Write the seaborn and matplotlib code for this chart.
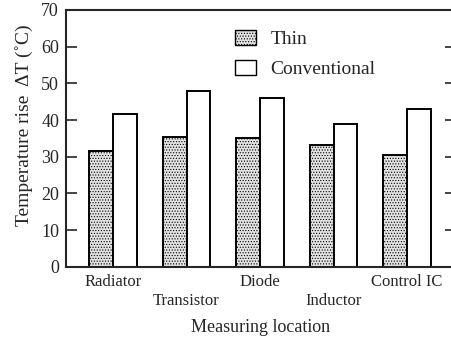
import pandas as pd
import seaborn as sns
import matplotlib.pyplot as plt
from matplotlib.patches import Patch

# Données
locations = ["Radiator", "Transistor", "Diode", "Inductor", "Control IC"]
thin = [31.6, 35.3, 35.1, 33.3, 30.6]
conventional = [41.7, 47.8, 45.9, 38.8, 43.1]
series = ["Thin", "Conventional"]

data = pd.DataFrame({
    "location": locations * 2,
    "type": [series[0]] * len(locations) + [series[1]] * len(locations),
    "dT": thin + conventional,
})

sns.set_style("ticks")
plt.rcParams["font.family"] = ["Liberation Serif", "DejaVu Serif"]
plt.rcParams["hatch.color"] = "#9a9a9a"
plt.rcParams["hatch.linewidth"] = 0.5

fig = plt.figure(figsize=(4.52, 3.40), dpi=100)
ax = fig.add_axes([0.146, 0.215, 0.862, 0.756])

sns.barplot(data=data, x="location", y="dT", hue="type", order=locations,
            hue_order=series, palette={"Thin": "#e2e2e2", "Conventional": "white"},
            width=0.65, edgecolor="black", linewidth=1.4, ax=ax, legend=False)

# hachures pointillées pour "Thin"
for bar in ax.containers[0]:
    bar.set_hatch("......")

ax.set_ylim(0, 70)
ax.set_xlim(-0.64, 4.66)
ax.set_yticks(range(0, 71, 10))
ax.tick_params(axis="y", direction="in", length=8, width=1.2, labelsize=13,
               right=True, left=True, pad=5)
ax.tick_params(axis="x", length=0, labelsize=12, pad=5)

# étiquettes alternées sur deux lignes
labels = [lab if i % 2 == 0 else "\n" + lab for i, lab in enumerate(locations)]
ax.set_xticks(range(len(locations)))
ax.set_xticklabels(labels, linespacing=1.3)

for side in ["left", "bottom", "top"]:
    ax.spines[side].set_linewidth(1.5)
ax.spines["right"].set_visible(False)

ax.set_xlabel("Measuring location", fontsize=13, labelpad=7)
ax.set_ylabel("Temperature rise  ΔT (˚C)", fontsize=14)
ax.yaxis.set_label_coords(-0.085, 0.55)

handles = [Patch(facecolor="#e2e2e2", edgecolor="black", hatch="......", linewidth=1.0),
           Patch(facecolor="white", edgecolor="black", linewidth=1.0)]
ax.legend(handles, series, loc="upper left", bbox_to_anchor=(0.39, 0.99),
          frameon=False, fontsize=14, handlelength=1.05, handleheight=0.8,
          handletextpad=0.75, labelspacing=0.6)

plt.savefig("out.png", dpi=100)
